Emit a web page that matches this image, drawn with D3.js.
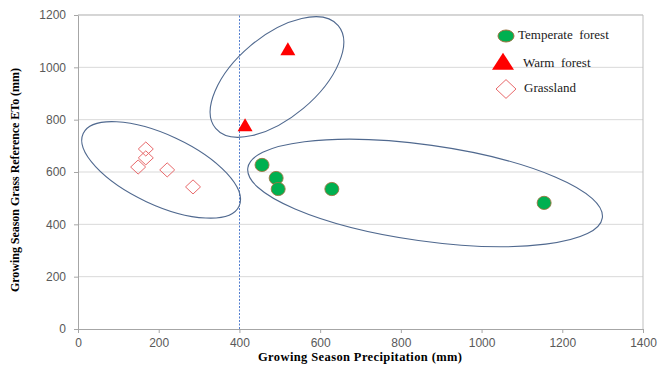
<!DOCTYPE html>
<html>
<head>
<meta charset="utf-8">
<script src="https://cdn.jsdelivr.net/npm/d3@7"></script>
<style>
  body { margin: 0; background: #fff; }
  svg { display: block; }
</style>
</head>
<body>
<svg id="chart" width="658" height="368"></svg>
<script>
// values
const temperateX = [456, 491, 496, 629, 1155];
const temperateY = [627, 577, 535, 535, 482];
const warmX = [414, 520];
const warmY = [776, 1066];
const grassX = [168, 168, 149, 221, 285];
const grassY = [688, 654, 619, 608, 543];

const xTicks = [0, 200, 400, 600, 800, 1000, 1200, 1400];
const yTicks = [0, 200, 400, 600, 800, 1000, 1200];
const seriesNames = ['Temperate  forest', 'Warm  forest', 'Grassland'];

// group outlines: centre in data units
const groupCentreX = [206, 493, 860];
const groupCentreY = [608, 963, 520];

const svg = d3.select('#chart');
const margin = { left: 78, right: 15, top: 15, bottom: 39 };
const W = 658, H = 368;

const x = d3.scaleLinear().domain([0, 1400]).range([margin.left, W - margin.right]);
const y = d3.scaleLinear().domain([0, 1200]).range([H - margin.bottom, margin.top]);

// gridlines
svg.append('g')
  .selectAll('line')
  .data(yTicks.slice(1))
  .enter().append('line')
  .attr('x1', x(0)).attr('x2', x(1400))
  .attr('y1', d => y(d)).attr('y2', d => y(d))
  .attr('stroke', '#d9d9d9');

// top + right frame
svg.append('path')
  .attr('d', `M${x(0)},${y(1200)}H${x(1400)}V${y(0)}`)
  .attr('fill', 'none')
  .attr('stroke', '#bfbfbf');

// axes
const xAxis = svg.append('g')
  .attr('transform', `translate(0,${y(0)})`)
  .call(d3.axisBottom(x).tickValues(xTicks).tickFormat(d3.format('d'))
    .tickSize(4).tickPadding(5).tickSizeOuter(0));
const yAxis = svg.append('g')
  .attr('transform', `translate(${x(0)},0)`)
  .call(d3.axisLeft(y).tickValues(yTicks).tickFormat(d3.format('d'))
    .tickSize(4).tickPadding(8).tickSizeOuter(0));
[xAxis, yAxis].forEach(a => {
  a.selectAll('path, line').attr('stroke', '#a6a6a6');
  a.selectAll('text')
    .attr('fill', '#595959')
    .style('font-family', '"Liberation Sans", Arial, sans-serif')
    .style('font-size', '12px');
});

// 400 mm reference line
svg.append('line')
  .attr('x1', Math.round(x(400)) + 0.5).attr('x2', Math.round(x(400)) + 0.5)
  .attr('y1', y(0)).attr('y2', y(1200))
  .attr('stroke', '#3f6fc8')
  .attr('stroke-width', 0.9)
  .attr('stroke-dasharray', '2,1.5');

// ellipses round the groups
const ellipseShape = [
  { rx: 86, ry: 35, rot: 25 },
  { rx: 80, ry: 41, rot: -40 },
  { rx: 179, ry: 48, rot: 8 },
];
svg.append('g')
  .selectAll('ellipse')
  .data(groupCentreX.map((cx, i) => ({ cx, cy: groupCentreY[i], ...ellipseShape[i] })))
  .enter().append('ellipse')
  .attr('rx', d => d.rx)
  .attr('ry', d => d.ry)
  .attr('transform', d => `translate(${x(d.cx)},${y(d.cy)}) rotate(${d.rot})`)
  .attr('fill', 'none')
  .attr('stroke', '#50698f')
  .attr('stroke-width', 1.1);

// markers
const diamond = (s) => `M0,${-s * 0.47}L${s / 2},0L0,${s * 0.47}L${-s / 2},0Z`;
const triangle = (w, h) => `M0,${-h * 0.6}L${w / 2},${h * 0.4}L${-w / 2},${h * 0.4}Z`;

svg.append('g')
  .selectAll('path')
  .data(grassX.map((v, i) => [v, grassY[i]]))
  .enter().append('path')
  .attr('d', diamond(15))
  .attr('transform', d => `translate(${x(d[0])},${y(d[1])})`)
  .attr('fill', 'none')
  .attr('stroke', '#e8696b')
  .attr('stroke-width', 1);

svg.append('g')
  .selectAll('path')
  .data(warmX.map((v, i) => [v, warmY[i]]))
  .enter().append('path')
  .attr('d', triangle(15, 13))
  .attr('transform', d => `translate(${x(d[0])},${y(d[1])})`)
  .attr('fill', '#ff0000');

svg.append('g')
  .selectAll('ellipse')
  .data(temperateX.map((v, i) => [v, temperateY[i]]))
  .enter().append('ellipse')
  .attr('cx', d => x(d[0]))
  .attr('cy', d => y(d[1]))
  .attr('rx', 7)
  .attr('ry', 6.6)
  .attr('fill', '#00b050')
  .attr('stroke', '#9b7440')
  .attr('stroke-width', 0.9);

// legend
const legend = svg.append('g').attr('class', 'legend');
legend.append('ellipse')
  .attr('cx', 506).attr('cy', 36).attr('rx', 8).attr('ry', 6)
  .attr('fill', '#00b050').attr('stroke', '#9b7440').attr('stroke-width', 1);
legend.append('path')
  .attr('d', triangle(22, 17))
  .attr('transform', 'translate(503,63)')
  .attr('fill', '#ff0000');
legend.append('path')
  .attr('d', diamond(20))
  .attr('transform', 'translate(506,89)')
  .attr('fill', 'none').attr('stroke', '#e8696b');
const legendPos = [[518, 39], [523, 67], [524, 92]];
legend.selectAll('text')
  .data(seriesNames)
  .enter().append('text')
  .attr('x', (d, i) => legendPos[i][0])
  .attr('y', (d, i) => legendPos[i][1])
  .attr('fill', '#1a1a1a')
  .style('font-family', '"Liberation Serif", "Times New Roman", serif')
  .style('font-size', '13px')
  .style('white-space', 'pre')
  .text(d => d);

// axis titles
svg.append('text')
  .attr('x', 360).attr('y', 361)
  .attr('text-anchor', 'middle')
  .attr('textLength', 204)
  .attr('lengthAdjust', 'spacing')
  .style('font-family', '"Liberation Serif", "Times New Roman", serif')
  .style('font-size', '12.5px')
  .style('font-weight', 'bold')
  .text('Growing Season Precipitation (mm)');

svg.append('text')
  .attr('transform', 'translate(19,180) rotate(-90)')
  .attr('text-anchor', 'middle')
  .attr('textLength', 224)
  .attr('lengthAdjust', 'spacing')
  .style('font-family', '"Liberation Serif", "Times New Roman", serif')
  .style('font-size', '12px')
  .style('font-weight', 'bold')
  .text('Growing Season Grass Reference ETo (mm)');
</script>
</body>
</html>
